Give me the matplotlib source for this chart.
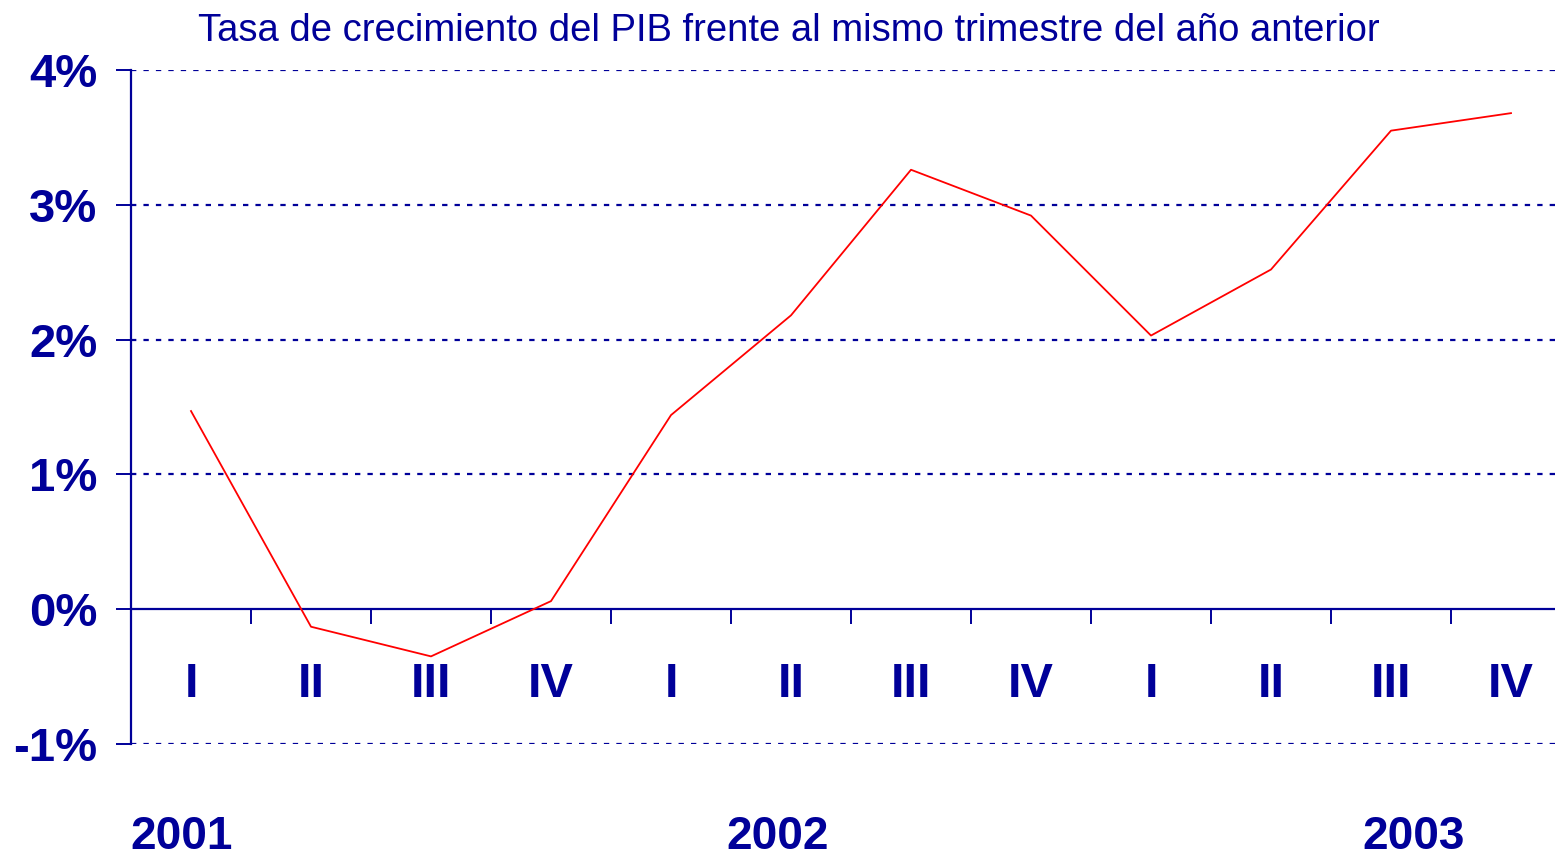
import numpy as np
import matplotlib.pyplot as plt

plt.rcParams['font.family'] = ['Liberation Sans', 'DejaVu Sans']

# data
quarters = ['I', 'II', 'III', 'IV', 'I', 'II', 'III', 'IV', 'I', 'II', 'III', 'IV']
growth = [1.47, -0.13, -0.35, 0.06, 1.44, 2.18, 3.26, 2.92, 2.03, 2.52, 3.55, 3.68]
years = ['2001', '2002', '2003']
y_ticks = [-1, 0, 1, 2, 3, 4]

navy = '#000099'
W, H = 1558, 859

fig = plt.figure(figsize=(W / 100, H / 100), dpi=100)
ax = fig.add_axes([131 / W, 1 - 744 / H, (1555 - 131) / W, (744 - 70) / H])

x = np.arange(len(growth))
ax.set_xlim(-0.5, (1555 - 131) / 120 - 0.5)
ax.set_ylim(-1, 4)

# dotted grid at each non-zero tick
for v in y_ticks:
	if v != 0:
		ax.axhline(v, color=navy, lw=1.6, dashes=(2.4, 3.2), zorder=1)
ax.axhline(0, color=navy, lw=1.6, zorder=2)

ax.plot(x, growth, color='#ff0000', lw=1.3, zorder=3)

for s in ['top', 'right', 'bottom']:
	ax.spines[s].set_visible(False)
ax.spines['left'].set_color(navy)
ax.spines['left'].set_linewidth(1.6)

ax.set_yticks(y_ticks)
ax.set_yticklabels([f'{v}%' for v in y_ticks])
ax.tick_params(axis='y', direction='out', length=11, width=1.4, color=navy,
	labelcolor=navy, labelsize=34, pad=13)
for lab in ax.get_yticklabels():
	lab.set_fontweight('bold')

ax.set_xticks([])
# quarter separators hanging under the zero line
ax.vlines(np.arange(len(growth)) + 0.5, -0.11, 0, color=navy, lw=1.4, zorder=2)

for i, q in enumerate(quarters):
	ax.text(i, -0.56, q, ha='center', va='center', color=navy,
		fontsize=35, fontweight='bold')

for yr, xp in zip(years, [-0.08, 4.89, 10.19]):
	ax.text(xp, -1.78, yr, ha='center', va='baseline', color=navy,
		fontsize=33, fontweight='bold')

fig.text(789 / W, 1 - 31 / H, 'Tasa de crecimiento del PIB frente al mismo trimestre del año anterior',
	ha='center', va='center', color=navy, fontsize=27.5)

fig.savefig('out.png', dpi=100)
